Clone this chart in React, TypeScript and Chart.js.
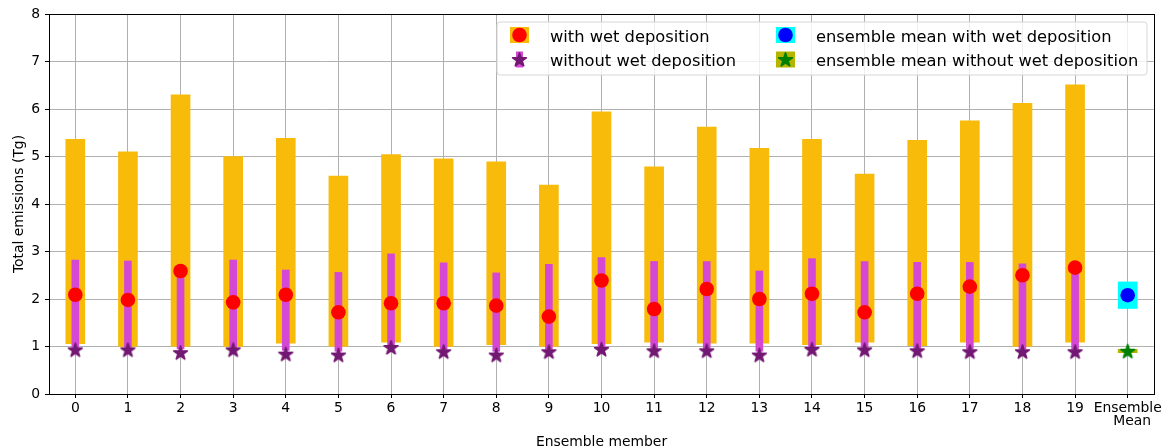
import React, { useEffect, useRef } from 'react';
import { Chart, registerables } from 'chart.js';

Chart.register(...registerables);

const categories: (string | string[])[] = [
  '0', '1', '2', '3', '4', '5', '6', '7', '8', '9',
  '10', '11', '12', '13', '14', '15', '16', '17', '18', '19',
  ['Ensemble', '  Mean'],
];

// with wet deposition: range (orange) and central value (red circle)
const withWetLow = [1.06, 1.0, 1.0, 1.0, 1.07, 1.0, 1.09, 1.0, 1.04, 1.0, 1.06, 1.09, 1.07, 1.07, 1.04, 1.09, 1.02, 1.09, 1.0, 1.09];
const withWetHigh = [5.36, 5.10, 6.30, 5.00, 5.38, 4.59, 5.04, 4.95, 4.89, 4.40, 5.94, 4.78, 5.62, 5.17, 5.36, 4.63, 5.34, 5.75, 6.12, 6.51];
const withWetMean = [2.09, 1.98, 2.59, 1.93, 2.09, 1.72, 1.91, 1.91, 1.86, 1.63, 2.39, 1.79, 2.21, 2.00, 2.11, 1.72, 2.11, 2.26, 2.50, 2.66];

// without wet deposition: range (magenta) and central value (purple star)
const withoutWetLow = [0.98, 0.98, 0.95, 0.98, 0.92, 0.90, 1.0, 0.95, 0.90, 0.95, 0.98, 0.96, 0.96, 0.90, 0.98, 0.98, 0.96, 0.95, 0.95, 0.95];
const withoutWetHigh = [2.82, 2.80, 2.55, 2.82, 2.61, 2.56, 2.95, 2.76, 2.55, 2.73, 2.87, 2.79, 2.79, 2.59, 2.85, 2.79, 2.77, 2.77, 2.74, 2.60];
const withoutWetMean = [0.93, 0.93, 0.87, 0.93, 0.84, 0.82, 0.98, 0.89, 0.82, 0.89, 0.94, 0.91, 0.91, 0.82, 0.94, 0.93, 0.91, 0.89, 0.89, 0.89];

// ensemble mean
const ensWetRange = [1.80, 2.36];
const ensWetMean = 2.08;
const ensDryRange = [0.87, 0.94];
const ensDryMean = 0.90;

const yTicks = [0, 1, 2, 3, 4, 5, 6, 7, 8];

const ORANGE = '#f8bb0a';
const MAGENTA = '#d548d5';
const RED = '#ff0000';
const PURPLE = '#731873';
const CYAN = '#00ffff';
const BLUE = '#0000ff';
const OLIVE = '#b5b500';
const GREEN = '#008000';
const FONT = '"DejaVu Sans", sans-serif';
const STAR_R = 7.2;

function makeStar(color: string, R: number): HTMLCanvasElement {
  const size = Math.ceil(2 * R + 4);
  const c = document.createElement('canvas');
  c.width = size;
  c.height = size;
  const ctx = c.getContext('2d')!;
  const cx = size / 2;
  const cy = size / 2 + 0.5;
  const r = R * 0.381966;
  ctx.beginPath();
  for (let i = 0; i < 10; i++) {
    const rad = i % 2 === 0 ? R : r;
    const a = -Math.PI / 2 + (i * Math.PI) / 5;
    const x = cx + rad * Math.cos(a);
    const y = cy + rad * Math.sin(a);
    if (i === 0) ctx.moveTo(x, y);
    else ctx.lineTo(x, y);
  }
  ctx.closePath();
  ctx.fillStyle = color;
  ctx.fill();
  ctx.strokeStyle = color;
  ctx.lineWidth = 1.6;
  ctx.lineJoin = 'round';
  ctx.stroke();
  return c;
}

export default function App() {
  const ref = useRef<HTMLCanvasElement>(null);

  useEffect(() => {
    if (!ref.current) return;
    const starPurple = makeStar(PURPLE, STAR_R);
    const starGreen = makeStar(GREEN, STAR_R);
    const n = withWetHigh.length;
    const nulls = () => new Array(n).fill(null);

    const framePlugin = {
      id: 'frame',
      afterDatasetsDraw(chart: any) {
        const { ctx, chartArea: a } = chart;
        ctx.save();
        ctx.strokeStyle = '#000';
        ctx.lineWidth = 1;
        ctx.strokeRect(Math.round(a.left) + 0.5, Math.round(a.top) + 0.5, Math.round(a.right) - Math.round(a.left), Math.round(a.bottom) - Math.round(a.top));
        ctx.restore();
      },
    };

    const legendPlugin = {
      id: 'customLegend',
      afterDraw(chart: any) {
        const ctx = chart.ctx as CanvasRenderingContext2D;
        ctx.save();
        const x = 497, y = 22, w = 650, h = 53, rr = 3;
        ctx.beginPath();
        ctx.moveTo(x + rr, y);
        ctx.lineTo(x + w - rr, y);
        ctx.quadraticCurveTo(x + w, y, x + w, y + rr);
        ctx.lineTo(x + w, y + h - rr);
        ctx.quadraticCurveTo(x + w, y + h, x + w - rr, y + h);
        ctx.lineTo(x + rr, y + h);
        ctx.quadraticCurveTo(x, y + h, x, y + h - rr);
        ctx.lineTo(x, y + rr);
        ctx.quadraticCurveTo(x, y, x + rr, y);
        ctx.closePath();
        ctx.fillStyle = 'rgba(255,255,255,0.8)';
        ctx.fill();
        ctx.strokeStyle = '#d6d6d6';
        ctx.lineWidth = 1;
        ctx.stroke();

        const rows = [35, 59.5];
        const cols = [519.5, 785.5];
        const circle = (cx: number, cy: number, color: string) => {
          ctx.beginPath();
          ctx.arc(cx, cy, 7.3, 0, Math.PI * 2);
          ctx.fillStyle = color;
          ctx.fill();
        };
        const star = (img: HTMLCanvasElement, cx: number, cy: number) => {
          ctx.drawImage(img, cx - img.width / 2, cy - img.height / 2);
        };
        ctx.fillStyle = ORANGE;
        ctx.fillRect(cols[0] - 9.5, rows[0] - 8, 19, 16);
        circle(cols[0], rows[0], RED);
        ctx.fillStyle = MAGENTA;
        ctx.fillRect(cols[0] - 3.5, rows[1] - 8, 7, 16);
        star(starPurple, cols[0], rows[1]);
        ctx.fillStyle = CYAN;
        ctx.fillRect(cols[1] - 9.5, rows[0] - 8, 19, 16);
        circle(cols[1], rows[0], BLUE);
        ctx.fillStyle = OLIVE;
        ctx.fillRect(cols[1] - 9.5, rows[1] - 8, 19, 16);
        star(starGreen, cols[1], rows[1]);

        ctx.fillStyle = '#000';
        ctx.font = '16.3px ' + FONT;
        ctx.textBaseline = 'alphabetic';
        ctx.textAlign = 'left';
        ctx.fillText('with wet deposition', 550, 41.5);
        ctx.fillText('without wet deposition', 550, 66);
        ctx.fillText('ensemble mean with wet deposition', 816, 41.5);
        ctx.fillText('ensemble mean without wet deposition', 816, 66);
        ctx.restore();
      },
    };

    const chart = new Chart(ref.current, {
      type: 'bar',
      data: {
        labels: categories as any,
        datasets: [
          {
            type: 'line',
            data: [...withWetMean, null],
            showLine: false,
            pointRadius: 7.3,
            pointBorderWidth: 0,
            pointBackgroundColor: RED,
            pointHoverRadius: 7.3,
            order: 1,
          } as any,
          {
            type: 'line',
            data: [...withoutWetMean, null],
            showLine: false,
            pointStyle: starPurple,
            pointRadius: STAR_R,
            pointBorderWidth: 0,
            order: 2,
          } as any,
          {
            type: 'line',
            data: [...nulls(), ensWetMean],
            showLine: false,
            pointRadius: 7.3,
            pointBorderWidth: 0,
            pointBackgroundColor: BLUE,
            order: 3,
          } as any,
          {
            type: 'line',
            data: [...nulls(), ensDryMean],
            showLine: false,
            pointStyle: starGreen,
            pointRadius: STAR_R,
            pointBorderWidth: 0,
            order: 4,
          } as any,
          {
            data: [...withoutWetLow.map((l, i) => [l, withoutWetHigh[i]]), null],
            backgroundColor: MAGENTA,
            barThickness: 7,
            grouped: false,
            order: 5,
          } as any,
          {
            data: [...withWetLow.map((l, i) => [l, withWetHigh[i]]), null],
            backgroundColor: ORANGE,
            barThickness: 19,
            grouped: false,
            order: 6,
          } as any,
          {
            data: [...nulls(), ensWetRange],
            backgroundColor: CYAN,
            barThickness: 19,
            grouped: false,
            order: 6,
          } as any,
          {
            data: [...nulls(), ensDryRange],
            backgroundColor: OLIVE,
            barThickness: 19,
            grouped: false,
            order: 6,
          } as any,
        ],
      },
      options: {
        responsive: false,
        animation: false,
        layout: { padding: { top: 14, right: 8, left: 0, bottom: 0 } },
        plugins: {
          legend: { display: false },
          tooltip: { enabled: false },
        },
        scales: {
          x: {
            offset: true,
            grid: { offset: false, color: '#b0b0b0', lineWidth: 1, tickColor: '#000', tickLength: 4, drawTicks: true },
            border: { display: false },
            ticks: {
              color: '#000',
              font: { family: FONT, size: 13.9, lineHeight: 1.0 },
              padding: 3,
              maxRotation: 0,
              autoSkip: false,
            },
            title: {
              display: true,
              text: 'Ensemble member',
              color: '#000',
              font: { family: FONT, size: 13.9 },
              padding: { top: 0, bottom: -3 },
            },
            afterFit: (s: any) => {
              s.height = 54;
              s.paddingLeft = 0;
              s.paddingRight = 0;
            },
          } as any,
          y: {
            min: 0,
            max: 8,
            afterBuildTicks: (s: any) => {
              s.ticks = yTicks.map((v) => ({ value: v }));
            },
            grid: { color: '#b0b0b0', lineWidth: 1, tickColor: '#000', tickLength: 4, drawTicks: true },
            border: { display: false },
            ticks: {
              color: '#000',
              font: { family: FONT, size: 13.9 },
              padding: 5,
            },
            title: {
              display: true,
              text: 'Total emissions (Tg)',
              color: '#000',
              font: { family: FONT, size: 13.9 },
              padding: { top: 11, bottom: 0 },
            },
            afterFit: (s: any) => {
              s.width = 49;
              s.paddingTop = 0;
              s.paddingBottom = 0;
            },
          } as any,
        },
      },
      plugins: [framePlugin, legendPlugin],
    });
    return () => chart.destroy();
  }, []);

  return (
    <div style={{ position: 'fixed', left: 0, top: 0, width: 1162, height: 448, background: '#fff' }}>
      <canvas ref={ref} width={1162} height={448} style={{ display: 'block' }} />
    </div>
  );
}
